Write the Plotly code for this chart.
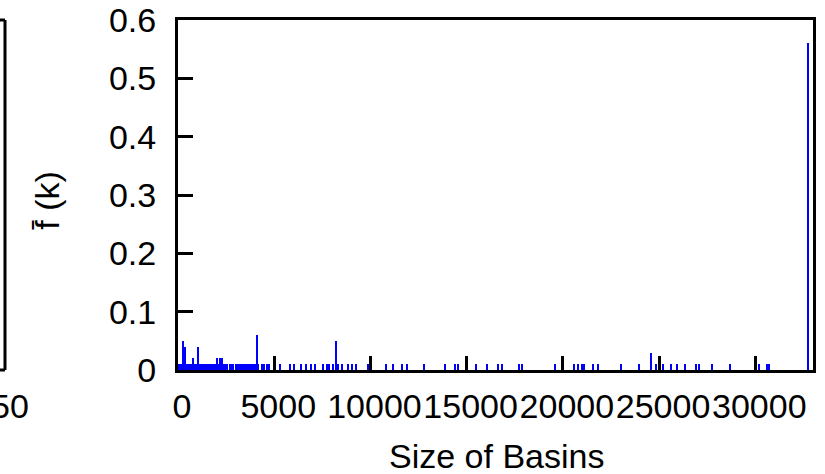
import plotly.graph_objects as go

# Basin sizes and their normalised frequencies f(k)
basin_size = [
    64, 128, 192, 256, 320, 384, 448, 512, 576, 640, 704, 768, 832, 896, 960,
    1024, 1088, 1152, 1216, 1280, 1344, 1408, 1472, 1536, 1600, 1664, 1728,
    1792, 1856, 1920, 1984, 2048, 2112, 2176, 2240, 2304, 2368, 2432, 2496,
    2560, 2688, 2752, 2816, 2880, 3008, 3072, 3136, 3200, 3264, 3328, 3456,
    3520, 3584, 3648, 3712, 3776, 3840, 3968, 4032, 4096, 4160, 4352, 4480,
    4608, 4736,
    5312, 5824, 6016, 6400, 6656, 6912, 7104, 7552, 7744, 7872, 8064, 8192,
    8320, 8512, 8832, 9024, 9280, 9856, 10816, 11200, 11648, 11904, 12800,
    13888, 14400, 14560, 15488, 16064, 16640, 16832, 17728, 17856, 19584,
    20608, 20800, 20992, 21120, 21568, 21824, 23040, 23936, 24576, 24832,
    25216, 25600, 25920, 26368, 26944, 27072, 27776, 28672, 30208, 30592,
    30720, 32768,
]
frequency = [
    0.010, 0.010, 0.010, 0.049, 0.010, 0.039, 0.010, 0.010, 0.010, 0.010, 0.010, 0.020, 0.010, 0.010, 0.010,
    0.039, 0.010, 0.010, 0.010, 0.010, 0.010, 0.010, 0.010, 0.010, 0.010, 0.010, 0.010,
    0.010, 0.010, 0.010, 0.010, 0.020, 0.010, 0.020, 0.010, 0.020, 0.010, 0.010, 0.010,
    0.010, 0.010, 0.010, 0.010, 0.010, 0.010, 0.010, 0.010, 0.010, 0.010, 0.010, 0.010,
    0.010, 0.010, 0.010, 0.010, 0.010, 0.010, 0.010, 0.010, 0.060, 0.010, 0.010, 0.010,
    0.010, 0.010,
    0.010, 0.010, 0.010, 0.010, 0.010, 0.010, 0.010, 0.010, 0.010, 0.010, 0.010, 0.050,
    0.010, 0.010, 0.010, 0.010, 0.010, 0.010, 0.010, 0.010, 0.010, 0.010, 0.010,
    0.010, 0.010, 0.010, 0.010, 0.010, 0.010, 0.010, 0.010, 0.010, 0.010,
    0.010, 0.010, 0.010, 0.010, 0.010, 0.010, 0.010, 0.010, 0.029, 0.010,
    0.010, 0.010, 0.010, 0.010, 0.010, 0.010, 0.010, 0.010, 0.010, 0.010,
    0.010, 0.560,
]

x_tickvals = [0, 5000, 10000, 15000, 20000, 25000, 30000]
x_ticktext = ["0", "5000", "10000", "15000", "20000", "25000", "30000"]
y_tickvals = [0, 0.1, 0.2, 0.3, 0.4, 0.5, 0.6]
y_ticktext = ["0", "0.1", "0.2", "0.3", "0.4", "0.5", "0.6"]

FONT = "Liberation Sans, Arial, Helvetica, sans-serif"
FS = 34

W, H = 825, 474
L, R, T, B = 178, 12, 20, 104
PW = W - L - R
PH = H - T - B

fig = go.Figure()
fig.add_trace(go.Bar(
    x=basin_size, y=frequency, width=60,
    marker=dict(color="#0000ff", line=dict(width=0)),
    showlegend=False,
))

fig.update_layout(
    width=W, height=H,
    margin=dict(l=L, r=R, t=T, b=B, pad=0, autoexpand=False),
    paper_bgcolor="white", plot_bgcolor="white",
    font=dict(family=FONT, size=FS, color="black"),
    bargap=0,
    xaxis=dict(
        range=[0, 33000], tickvals=x_tickvals, ticktext=x_ticktext,
        tickangle=0, automargin=False,
        ticks="inside", ticklen=14, tickwidth=2.5, tickcolor="black",
        showline=True, linewidth=3, linecolor="black", mirror=True,
        showgrid=False, zeroline=False, ticklabelstandoff=4, ticklabelshift=4,
        tickfont=dict(family=FONT, size=FS),
    ),
    yaxis=dict(
        range=[0, 0.6], tickvals=y_tickvals, ticktext=y_ticktext,
        automargin=False,
        ticks="inside", ticklen=15, tickwidth=2.5, tickcolor="black",
        showline=True, linewidth=3, linecolor="black", mirror=True,
        showgrid=False, zeroline=False, ticklabelstandoff=12,
        tickfont=dict(family=FONT, size=FS),
    ),
)

def px_x(p):
    return (p - L) / PW

def px_y(p):
    return (H - B - p) / PH

# axis titles
fig.add_annotation(text="Size of Basins", xref="paper", yref="paper",
                   x=px_x(496), y=px_y(456), xanchor="center", yanchor="middle",
                   showarrow=False, font=dict(family=FONT, size=FS))
fig.add_annotation(text="f\u0304 (k)", xref="paper", yref="paper",
                   x=px_x(47), y=px_y(201), xanchor="center", yanchor="middle",
                   textangle=-90, showarrow=False, font=dict(family=FONT, size=FS))

# remnant of the neighbouring panel on the left
for (x0, y0, x1, y1) in [(5, 20, 5, 370), (-5, 20, 5, 20), (-5, 370, 5, 370)]:
    fig.add_shape(type="line", xref="paper", yref="paper",
                  x0=px_x(x0), y0=px_y(y0), x1=px_x(x1), y1=px_y(y1),
                  line=dict(color="black", width=3))
fig.add_annotation(text="50", xref="paper", yref="paper",
                   x=px_x(10), y=px_y(406), xanchor="center", yanchor="middle",
                   showarrow=False, font=dict(family=FONT, size=FS))

fig.write_html(
    "out.html",
    config={"displayModeBar": False},
    post_script="document.body.style.margin='0';document.body.style.padding='0';",
)
